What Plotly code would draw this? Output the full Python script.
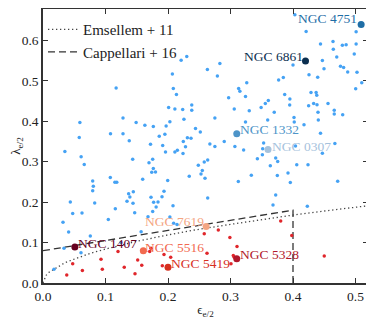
import plotly.graph_objects as go

# small blue points (fast rotators)
fast_eps = [0.117, 0.059, 0.128, 0.149, 0.163, 0.058, 0.108, 0.128, 0.138, 0.172, 0.1435, 0.1755,
            0.1765, 0.186, 0.1915, 0.195, 0.197, 0.196, 0.203, 0.201, 0.207, 0.2085, 0.2135, 0.211,
            0.221, 0.230, 0.2235, 0.2255, 0.211, 0.215, 0.224, 0.2245, 0.228, 0.231, 0.035, 0.061,
            0.403, 0.421, 0.444, 0.464, 0.4645, 0.479, 0.485, 0.501, 0.501, 0.498, 0.470, 0.447,
            0.4496, 0.400, 0.476, 0.481, 0.4875, 0.5024, 0.4256, 0.4395, 0.5003, 0.51, 0.283, 0.263,
            0.279, 0.326, 0.377, 0.3845, 0.313, 0.315, 0.297, 0.324, 0.3867, 0.395, 0.4288, 0.437,
            0.438, 0.3605, 0.3557, 0.433, 0.4384, 0.456, 0.425, 0.3947, 0.349, 0.306, 0.330, 0.370,
            0.466, 0.466, 0.4795, 0.238, 0.238, 0.44, 0.275, 0.3595, 0.4016, 0.402, 0.4405, 0.324,
            0.244, 0.2517, 0.444, 0.2368, 0.267, 0.275, 0.290, 0.307, 0.321, 0.353, 0.3515, 0.343,
            0.447, 0.467, 0.2635, 0.4176, 0.404,
            0.066, 0.1696, 0.1765, 0.174, 0.180, 0.1077, 0.115, 0.118, 0.0795, 0.0805, 0.0795, 0.1595,
            0.1995, 0.234, 0.137, 0.139, 0.1344, 0.1445, 0.144, 0.1467, 0.1728, 0.177, 0.184, 0.1904,
            0.1936, 0.208, 0.181, 0.1755, 0.1157, 0.0827, 0.0437, 0.0475, 0.0624, 0.032, 0.041, 0.1045,
            0.157, 0.168, 0.203, 0.209, 0.2144, 0.0757, 0.0336, 0.0176, 0.0608, 0.1248,
            0.2485, 0.258, 0.2528, 0.2549, 0.2592, 0.3333, 0.3125, 0.2635, 0.351, 0.3723, 0.3755,
            0.3637, 0.406, 0.424, 0.392, 0.3749, 0.3957, 0.4715, 0.3723, 0.368, 0.4229]
fast_lam = [0.482, 0.397, 0.408, 0.397, 0.390, 0.360, 0.369, 0.369, 0.352, 0.343, 0.306, 0.306,
            0.387, 0.363, 0.340, 0.368, 0.388, 0.324, 0.399, 0.434, 0.517, 0.481, 0.466, 0.430,
            0.551, 0.560, 0.429, 0.405, 0.324, 0.328, 0.320, 0.350, 0.337, 0.359, 0.325, 0.312,
            0.663, 0.622, 0.591, 0.597, 0.578, 0.588, 0.589, 0.621, 0.591, 0.566, 0.559, 0.550,
            0.530, 0.539, 0.536, 0.533, 0.522, 0.521, 0.515, 0.509, 0.480, 0.495, 0.543, 0.528,
            0.512, 0.495, 0.502, 0.508, 0.481, 0.474, 0.458, 0.461, 0.466, 0.455, 0.471, 0.471,
            0.464, 0.451, 0.444, 0.444, 0.441, 0.444, 0.438, 0.440, 0.434, 0.430, 0.426, 0.4225,
            0.427, 0.418, 0.416, 0.440, 0.427, 0.4225, 0.408, 0.403, 0.409, 0.398, 0.403, 0.398,
            0.382, 0.3735, 0.370, 0.358, 0.344, 0.3375, 0.350, 0.3375, 0.329, 0.346, 0.332, 0.307,
            0.321, 0.345, 0.304, 0.3915, 0.339,
            0.293, 0.2975, 0.283, 0.274, 0.2745, 0.261, 0.249, 0.249, 0.252, 0.239, 0.228, 0.2566,
            0.2534, 0.264, 0.2206, 0.2125, 0.202, 0.2255, 0.197, 0.174, 0.2118, 0.1995, 0.2002, 0.213,
            0.227, 0.191, 0.188, 0.1765, 0.1838, 0.198, 0.200, 0.1716, 0.173, 0.150, 0.126, 0.157,
            0.127, 0.164, 0.1635, 0.148, 0.1446, 0.116, 0.0858, 0.0343, 0.0745, 0.100,
            0.291, 0.299, 0.2696, 0.278, 0.259, 0.2664, 0.251, 0.210, 0.317, 0.309, 0.3007,
            0.290, 0.2926, 0.2926, 0.272, 0.2657, 0.2485, 0.2517, 0.2174, 0.193, 0.1897]

# small red points (slow rotators)
slow_eps = [0.0475, 0.038, 0.063, 0.0928, 0.0949, 0.12, 0.130, 0.1515, 0.1472, 0.158, 0.258, 0.2805,
            0.299, 0.3104, 0.2624, 0.1707, 0.1728, 0.1936, 0.2043, 0.1909, 0.3045, 0.306, 0.3008,
            0.3803, 0.398, 0.450]
slow_lam = [0.0475, 0.0196, 0.031, 0.0588, 0.0343, 0.078, 0.039, 0.057, 0.023, 0.044, 0.122, 0.131,
            0.1127, 0.090, 0.0735, 0.0777, 0.0858, 0.0703, 0.0637, 0.0426, 0.068, 0.0637, 0.0475,
            0.153, 0.1177, 0.067]

# labelled galaxies
gal_names = ['NGC 4751', 'NGC 6861', 'NGC 1332', 'NGC 0307', 'NGC 1407',
             'NGC 7619', 'NGC 5516', 'NGC 5419', 'NGC 5328']
gal_eps = [0.509, 0.420, 0.310, 0.360, 0.051, 0.261, 0.1605, 0.200, 0.310]
gal_lam = [0.639, 0.549, 0.369, 0.330, 0.089, 0.140, 0.080, 0.039, 0.060]
gal_colors = ['#1f6ea6', '#0b2e4f', '#4d94c8', '#a6c2dc', '#67001f',
              '#f4a582', '#f26a4f', '#d7301f', '#b2182b']

# reference relations
ems_eps = [0.0, 0.005, 0.01, 0.02, 0.035, 0.05, 0.075, 0.1, 0.15, 0.2, 0.25, 0.3, 0.35, 0.4, 0.45, 0.52]
ems_lam = [0.0, 0.019, 0.027, 0.037, 0.050, 0.059, 0.073, 0.084, 0.103, 0.119, 0.133, 0.145,
           0.157, 0.168, 0.178, 0.191]
cap_eps = [0.0, 0.4, 0.4]
cap_lam = [0.08, 0.18, 0.0]

serif = 'Liberation Serif'

fig = go.Figure()
fig.add_trace(go.Scatter(x=ems_eps, y=ems_lam, mode='lines', name='Emsellem + 11',
                         line=dict(color='#444444', width=1.3, dash='1.3px,2.7px')))
fig.add_trace(go.Scatter(x=cap_eps, y=cap_lam, mode='lines', name='Cappellari + 16',
                         line=dict(color='#333333', width=1.3, dash='7px,4px')))
fig.add_trace(go.Scatter(x=fast_eps, y=fast_lam, mode='markers', showlegend=False,
                         marker=dict(color='#45a2f4', size=3.5)))
fig.add_trace(go.Scatter(x=slow_eps, y=slow_lam, mode='markers', showlegend=False,
                         marker=dict(color='#e0262b', size=3.5)))
fig.add_trace(go.Scatter(x=gal_eps, y=gal_lam, mode='markers', showlegend=False,
                         marker=dict(color=gal_colors, size=7)))

# label placement: (xanchor, xshift, yshift)
label_pos = [('right', -2, 6), ('right', -1, 4), ('left', 1, 4), ('left', 2, 3), ('left', 1, 4),
             ('right', 0, 5), ('left', 0, 3), ('left', 1, 4), ('left', 1, 4)]
for name, ex, ly, col, (xa, xs, ys) in zip(gal_names, gal_eps, gal_lam, gal_colors, label_pos):
    fig.add_annotation(x=ex, y=ly, text=name, showarrow=False, xanchor=xa, yanchor='middle',
                       xshift=xs, yshift=ys, font=dict(family=serif, size=13.5, color=col))

axis_style = dict(showline=True, linecolor='#333333', linewidth=1.5, mirror='ticks',
                  ticks='inside', ticklen=5, tickwidth=1, tickcolor='#333333',
                  showgrid=False, zeroline=False, dtick=0.1, tickformat='.1f', automargin=False,
                  tickfont=dict(family=serif, size=13.5, color='#222222'))

# the page body adds an 8px offset, so the figure is sized to fill the rest of the window
fig.update_layout(
    width=366, height=313,
    margin=dict(l=35, r=6, t=1, b=38, autoexpand=False),
    plot_bgcolor='white', paper_bgcolor='white',
    xaxis=dict(range=[0, 0.52], title=dict(text='ϵ<sub>e/2</sub>', standoff=2,
               font=dict(family=serif, size=13, color='#222222')), **axis_style),
    yaxis=dict(range=[0, 0.6775], title=dict(text='λ<sub>e/2</sub>', standoff=2,
               font=dict(family=serif, size=13, color='#222222')), **axis_style),
    legend=dict(x=0.0, y=0.985, xanchor='left', yanchor='top', bgcolor='rgba(0,0,0,0)',
                font=dict(family=serif, size=15, color='#222222'), tracegroupgap=0,
                itemwidth=30),
    showlegend=True,
)

fig.write_html("out.html")
